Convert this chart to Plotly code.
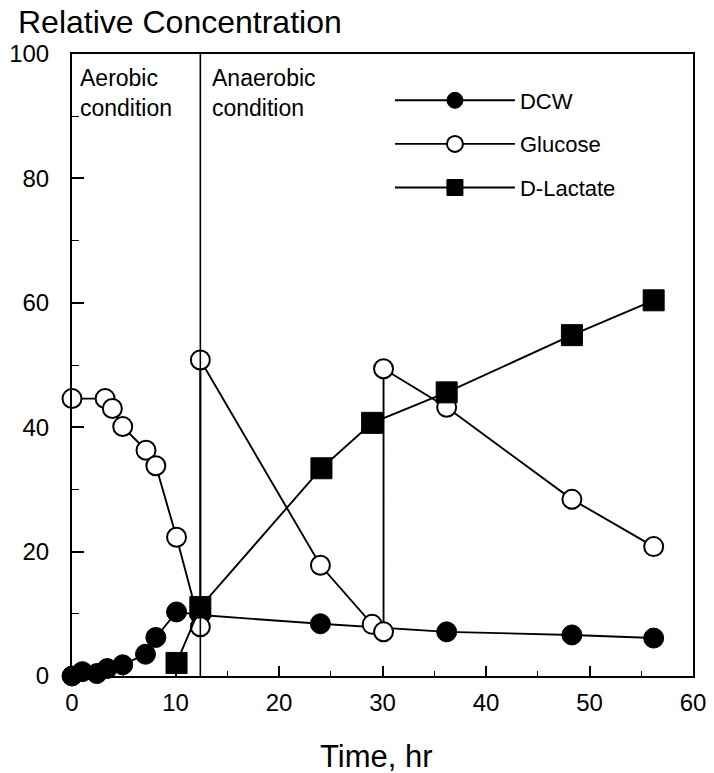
import plotly.graph_objects as go

# ---- data ----
dcw_time = [0, 1.0, 2.4, 3.4, 4.9, 7.1, 8.1, 10.1, 12.4, 24.0, 36.2, 48.3, 56.2]
dcw_conc = [0, 0.7, 0.4, 1.2, 1.8, 3.5, 6.2, 10.3, 9.8, 8.4, 7.1, 6.6, 6.1]

glucose_time = [0, 3.2, 3.9, 4.9, 7.15, 8.1, 10.1, 12.4, 12.4, 24.0, 29.0, 30.1, 30.1, 36.2, 48.3, 56.2]
glucose_conc = [44.6, 44.6, 43.0, 40.1, 36.3, 33.8, 22.3, 7.9, 50.8, 17.8, 8.3, 7.1, 49.4, 43.2, 28.4, 20.8]

lactate_time = [10.1, 12.4, 24.1, 29.0, 36.2, 48.3, 56.2]
lactate_conc = [2.1, 11.1, 33.4, 40.7, 45.6, 54.8, 60.4]

phase_switch_time = 12.4
x_ticks = [0, 10, 20, 30, 40, 50, 60]
y_ticks = [0, 20, 40, 60, 80, 100]

FONT = "Liberation Sans, Arial, sans-serif"
LW = 1.9

fig = go.Figure()
fig.add_trace(go.Scatter(
    x=dcw_time, y=dcw_conc, name="DCW", mode="lines+markers", legendgroup="a",
    line=dict(color="black", width=LW),
    marker=dict(symbol="circle", size=20, color="black", line=dict(color="black", width=1)),
    cliponaxis=False))
fig.add_trace(go.Scatter(
    x=glucose_time, y=glucose_conc, name="Glucose", mode="lines+markers", legendgroup="b",
    line=dict(color="black", width=LW),
    marker=dict(symbol="circle", size=19, color="white", line=dict(color="black", width=2)),
    cliponaxis=False))
fig.add_trace(go.Scatter(
    x=lactate_time, y=lactate_conc, name="D-Lactate", mode="lines+markers", legendgroup="c",
    line=dict(color="black", width=LW),
    marker=dict(symbol="square", size=21, color="black", line=dict(color="black", width=1)),
    cliponaxis=False))

fig.add_shape(type="line", x0=phase_switch_time, x1=phase_switch_time, y0=0, y1=100,
              xref="x", yref="y", line=dict(color="black", width=1.6))

fig.add_annotation(x=0.6, y=98.6, xref="x", yref="y", text="Aerobic<br>condition",
                   showarrow=False, xanchor="left", yanchor="top", align="left",
                   font=dict(family=FONT, size=23, color="black"))
fig.add_annotation(x=13.3, y=98.6, xref="x", yref="y", text="Anaerobic<br>condition",
                   showarrow=False, xanchor="left", yanchor="top", align="left",
                   font=dict(family=FONT, size=23, color="black"))

fig.add_annotation(x=-0.09, y=1.052, xref="paper", yref="paper", text="Relative Concentration",
                   showarrow=False, xanchor="left", yanchor="middle",
                   font=dict(family=FONT, size=32, color="black"))
fig.add_annotation(x=0.49, y=-0.13, xref="paper", yref="paper", text="Time, hr",
                   showarrow=False, xanchor="center", yanchor="middle",
                   font=dict(family=FONT, size=31, color="black"))

fig.update_xaxes(range=[0, 60], tickvals=x_ticks, ticks="inside", ticklen=10, tickwidth=1.6,
                 tickcolor="black", showline=True, linecolor="black", linewidth=2, mirror=True,
                 showgrid=False, zeroline=False, ticklabelstandoff=4, automargin=False,
                 tickfont=dict(family=FONT, size=24, color="black"),
                 minor=dict(dtick=5, ticks="inside", ticklen=5, tickwidth=1.4, tickcolor="black", showgrid=False))
fig.update_yaxes(range=[0, 100], tickvals=y_ticks, ticks="inside", ticklen=12, tickwidth=1.6,
                 tickcolor="black", showline=True, linecolor="black", linewidth=2, mirror=True,
                 showgrid=False, zeroline=False, ticklabelstandoff=16, automargin=False,
                 tickfont=dict(family=FONT, size=24, color="black"),
                 minor=dict(dtick=10, ticks="inside", ticklen=7, tickwidth=1.4, tickcolor="black", showgrid=False))

fig.update_layout(
    width=714, height=773,
    margin=dict(l=72, r=21, t=54, b=97),
    paper_bgcolor="white", plot_bgcolor="white",
    showlegend=True,
    legend=dict(x=0.512, y=0.959, xanchor="left", yanchor="top", bgcolor="rgba(0,0,0,0)",
                font=dict(family=FONT, size=22, color="black"), tracegroupgap=12,
                itemwidth=120),
)

fig.write_html("out.html")
